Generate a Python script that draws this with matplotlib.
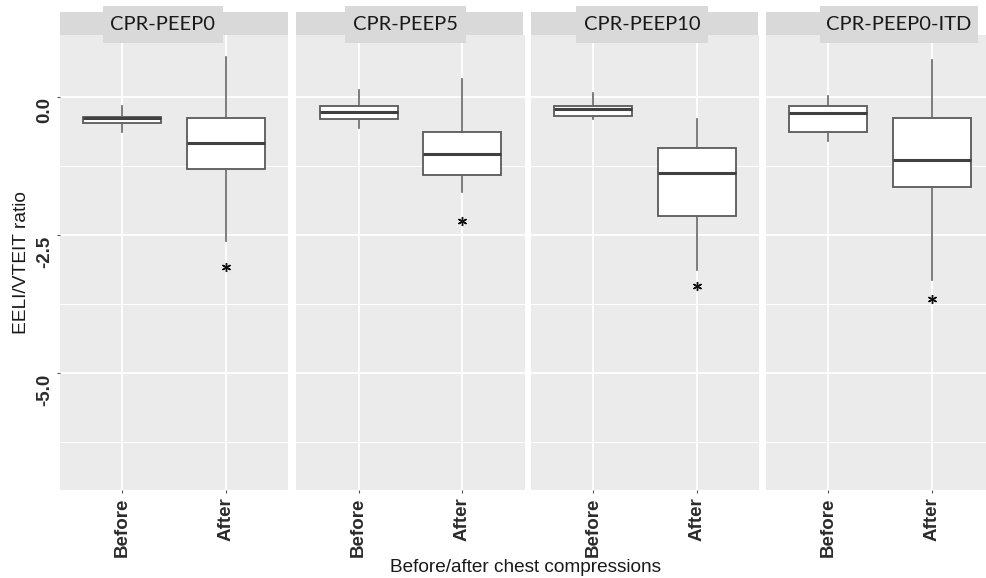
import matplotlib
matplotlib.use('Agg')
import matplotlib.pyplot as plt
from matplotlib.patches import Rectangle

# ---------------- data ----------------
panels = ['CPR-PEEP0', 'CPR-PEEP5', 'CPR-PEEP10', 'CPR-PEEP0-ITD']
groups = ['Before', 'After']
# five-number summaries: [whisker low, q1, median, q3, whisker high]
before_stats = [
    [-0.63, -0.47, -0.38, -0.35, -0.15],
    [-0.56, -0.39, -0.26, -0.16, 0.13],
    [-0.40, -0.33, -0.21, -0.15, 0.07],
    [-0.80, -0.62, -0.28, -0.16, 0.03],
]
after_stats = [
    [-2.61, -1.29, -0.82, -0.38, 0.73],
    [-1.71, -1.41, -1.03, -0.62, 0.33],
    [-3.12, -2.15, -1.38, -0.92, -0.40],
    [-3.31, -1.63, -1.14, -0.38, 0.68],
]
star_y = [-3.07, -2.24, -3.42, -3.65]
yticks = [0.0, -2.5, -5.0]
ytick_labels = ['0.0', '-2.5', '-5.0']
yminor = [1.25, -1.25, -3.75, -6.25]
ylabel = 'EELI/VTEIT ratio'
xlabel = 'Before/after chest compressions'

# ---------------- layout (pixels) ----------------
W, H = 987, 578
fig = plt.figure(figsize=(W / 100, H / 100), dpi=100)
fig.patch.set_facecolor('white')

def fa(l, t, r, b):
    return [l / W, 1 - b / H, (r - l) / W, (b - t) / H]

panel_left = [60, 296.5, 531, 766]
panel_w = 228
p_top, p_bot = 35, 490
y0_px, px_per_unit = 97.3, 55.2
ylim = (-(p_bot - y0_px) / px_per_unit, (y0_px - p_top) / px_per_unit)

band_right = [288, 523.5, 758.5, 977]
label_box = [(103, 223), (345, 466), (576, 708), (820, 978)]

bg = '#EBEBEB'
strip_col = '#D9D9D9'
tickfont = dict(family='Liberation Sans', size=13.5, weight='bold', color='#2b2b2b')

for i, name in enumerate(panels):
    l = panel_left[i]
    ax = fig.add_axes(fa(l, p_top, l + panel_w, p_bot))
    ax.set_facecolor(bg)
    ax.set_xlim(0.4, 2.6)
    ax.set_ylim(*ylim)
    for s in ax.spines.values():
        s.set_visible(False)
    # grid
    for y in yticks:
        ax.axhline(y, color='white', lw=1.3, zorder=0)
    for y in yminor:
        ax.axhline(y, color='white', lw=0.7, zorder=0)
    for x in [1, 2]:
        ax.axvline(x, color='white', lw=1.3, zorder=0)

    stats = []
    for st in (before_stats[i], after_stats[i]):
        stats.append(dict(whislo=st[0], q1=st[1], med=st[2], q3=st[3], whishi=st[4], fliers=[]))
    ax.bxp(stats, positions=[1, 2], widths=0.75, patch_artist=True, showcaps=False,
           boxprops=dict(facecolor='white', edgecolor='#595959', lw=1.3),
           medianprops=dict(color='#404040', lw=2.2),
           whiskerprops=dict(color='#666666', lw=1.2),
           manage_ticks=False, zorder=3)
    ax.plot([2], [star_y[i]], marker=(6, 2, 0), ms=6.5, mew=1.0, color='#111111',
            ls='none', zorder=4)

    ax.set_xticks([1, 2])
    ax.set_xticklabels(groups, rotation=90, fontdict=tickfont)
    ax.tick_params(axis='x', length=2, width=0.8, color='#555555', pad=3.5)
    ax.set_yticks(yticks)
    ax.set_yticklabels([])
    if i == 0:
        ax.tick_params(axis='y', length=2, width=0.8, color='#555555')
        for y, lab in zip(yticks, ytick_labels):
            ax.text((45 - l) / panel_w, y, lab, transform=ax.get_yaxis_transform(),
                    rotation=90, ha='center', va='top', **tickfont)
    else:
        ax.tick_params(axis='y', length=0)

    # strip band and label box
    fig.patches.append(Rectangle((l / W, 1 - 35 / H), (band_right[i] - l) / W, 23 / H,
                                 transform=fig.transFigure, facecolor=strip_col,
                                 edgecolor='none', zorder=5))
    bl, br = label_box[i]
    fig.patches.append(Rectangle((bl / W, 1 - 43 / H), (br - bl) / W, 37 / H,
                                 transform=fig.transFigure, facecolor=strip_col,
                                 edgecolor='none', zorder=6))
    fig.text((bl + br) / 2 / W, 1 - 25 / H, name, ha='center', va='center',
             family='Lato', size=14.5, color='#1a1a1a', zorder=7)

fig.text(22 / W, 1 - 262 / H, ylabel, rotation=90, ha='center', va='center',
         family='Liberation Sans', size=13.8, color='#1a1a1a')
fig.text(526 / W, 1 - 568 / H, xlabel, ha='center', va='center',
         family='Liberation Sans', size=13.7, color='#1a1a1a')

fig.savefig('out.png', dpi=100)
